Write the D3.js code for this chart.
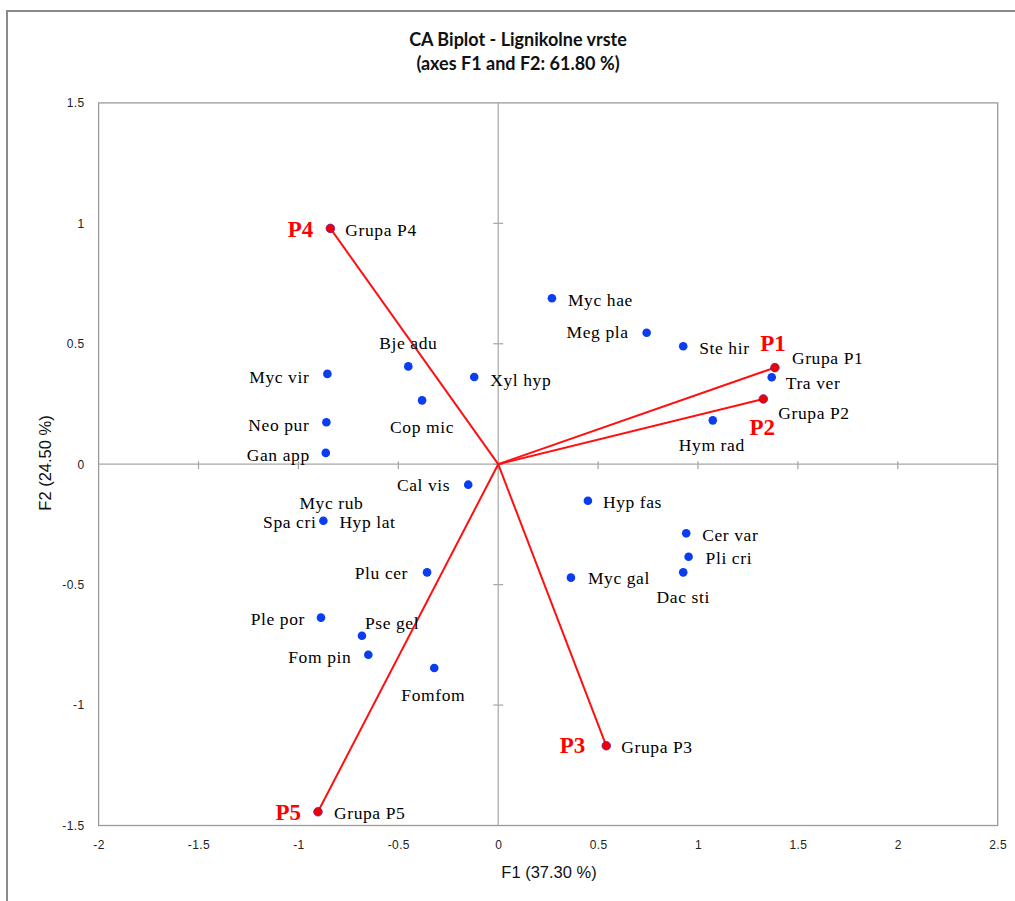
<!DOCTYPE html>
<html>
<head>
<meta charset="utf-8">
<script src="https://cdn.jsdelivr.net/npm/d3@7"></script>
<style>
  html, body { margin: 0; padding: 0; background: #fff; }
  svg { display: block; }
</style>
</head>
<body>
<svg id="chart" width="1015" height="901"></svg>
<script>
// Row points (site groups)
const groupNames = ["Grupa P1", "Grupa P2", "Grupa P3", "Grupa P4", "Grupa P5"];
const groupTags  = ["P1", "P2", "P3", "P4", "P5"];
const groupF1    = [1.385, 1.327, 0.541, -0.840, -0.902];
const groupF2    = [0.401, 0.271, -1.169, 0.979, -1.443];

// Column points (lignicolous species)
const speciesNames = ["Myc hae", "Meg pla", "Ste hir", "Tra ver", "Hym rad",
  "Myc vir", "Neo pur", "Gan app", "Bje adu", "Cop mic", "Xyl hyp", "Cal vis",
  "Spa cri", "Plu cer", "Ple por", "Pse gel", "Fom pin", "Fomfom",
  "Hyp fas", "Cer var", "Pli cri", "Myc gal", "Dac sti"];
const speciesF1 = [0.269, 0.743, 0.926, 1.369, 1.074,
  -0.855, -0.860, -0.863, -0.450, -0.381, -0.120, -0.150,
  -0.875, -0.356, -0.887, -0.682, -0.650, -0.320,
  0.449, 0.941, 0.953, 0.364, 0.926];
const speciesF2 = [0.689, 0.546, 0.490, 0.361, 0.182,
  0.375, 0.174, 0.047, 0.406, 0.265, 0.362, -0.085,
  -0.235, -0.449, -0.637, -0.712, -0.791, -0.846,
  -0.152, -0.287, -0.384, -0.471, -0.449];
// Extra names sharing the "Spa cri" point
const sharedNames = ["Myc rub", "Hyp lat"];

// Axis ticks
const xTicks = [-2, -1.5, -1, -0.5, 0, 0.5, 1, 1.5, 2, 2.5];
const yTicks = [-1.5, -1, -0.5, 0, 0.5, 1, 1.5];

const titleLines = ["CA Biplot - Lignikolne vrste", "(axes F1 and F2: 61.80 %)"];
const xTitle = "F1 (37.30 %)";
const yTitle = "F2 (24.50 %)";

// ---- label placement (pixel offsets from the point, anchor) ----
const labelPlace = {
  "Myc hae": [16, 2, "start"], "Meg pla": [-18, 0, "end"], "Ste hir": [16, 2, "start"],
  "Tra ver": [14, 6, "start"], "Hym rad": [-1, 25, "middle"],
  "Myc vir": [-18, 3, "end"], "Neo pur": [-17, 3, "end"], "Gan app": [-16, 2, "end"],
  "Bje adu": [0, -23, "middle"], "Cop mic": [0, 27, "middle"], "Xyl hyp": [16, 3, "start"],
  "Cal vis": [-18, 1, "end"], "Spa cri": [-7, 1, "end"], "Myc rub": [8, -18, "middle"],
  "Hyp lat": [16, 1, "start"], "Plu cer": [-19, 1, "end"], "Ple por": [-16, 2, "end"],
  "Pse gel": [3, -12, "start"], "Fom pin": [-17, 2, "end"], "Fomfom": [-1, 27, "middle"],
  "Hyp fas": [15, 1, "start"], "Cer var": [16, 2, "start"], "Pli cri": [17, 2, "start"],
  "Myc gal": [17, 1, "start"], "Dac sti": [0, 25, "middle"],
  "Grupa P1": [17, -9, "start"], "Grupa P2": [15, 14, "start"], "Grupa P3": [15, 1, "start"],
  "Grupa P4": [15, 2, "start"], "Grupa P5": [16, 1, "start"]
};
const tagPlace = {
  "P1": [-2, -24, "middle"], "P2": [-1, 28, "middle"], "P3": [-21, 0, "end"],
  "P4": [-17, 1, "end"], "P5": [-17, 1, "end"]
};

const svg = d3.select("#chart");

// outer chart frame
svg.append("rect")
  .attr("x", 7).attr("y", 11).attr("width", 1040).attr("height", 920)
  .attr("fill", "#fff").attr("stroke", "#8a8a8a").attr("stroke-width", 2);

const x = d3.scaleLinear().domain([-2, 2.5]).range([98.6, 997.7]);
const y = d3.scaleLinear().domain([-1.5, 1.5]).range([825.5, 102.9]);

// plot area frame
svg.append("rect")
  .attr("x", x(-2)).attr("y", y(1.5))
  .attr("width", x(2.5) - x(-2)).attr("height", y(-1.5) - y(1.5))
  .attr("fill", "none").attr("stroke", "#9a9a9a").attr("stroke-width", 1.3);

// tick labels along the frame (plain hyphen for negatives)
const tickFont = "'Liberation Sans', Arial, sans-serif";
const fmt = d => String(d);
const xAxis = d3.axisBottom(x).tickValues(xTicks).tickSize(0).tickPadding(0).tickFormat(fmt);
const gx = svg.append("g").attr("transform", `translate(0,${y(-1.5)})`).call(xAxis);
gx.select(".domain").remove();
gx.selectAll("text").attr("y", 20).attr("dy", "0.32em")
  .attr("font-family", tickFont).attr("font-size", 12).attr("fill", "#222")
  .attr("letter-spacing", 0.4);

const yAxis = d3.axisLeft(y).tickValues(yTicks).tickSize(0).tickPadding(0).tickFormat(fmt);
const gy = svg.append("g").attr("transform", `translate(${x(-2)},0)`).call(yAxis);
gy.select(".domain").remove();
gy.selectAll("text").attr("x", -14).attr("dy", "0.32em")
  .attr("font-family", tickFont).attr("font-size", 12).attr("fill", "#222")
  .attr("letter-spacing", 0.4);

// zero axes with crossing tick marks
const axisCol = "#a6a6a6";
svg.append("line").attr("x1", x(-2)).attr("x2", x(2.5)).attr("y1", y(0)).attr("y2", y(0))
  .attr("stroke", axisCol).attr("stroke-width", 1.2);
svg.append("line").attr("x1", x(0)).attr("x2", x(0)).attr("y1", y(1.5)).attr("y2", y(-1.5))
  .attr("stroke", axisCol).attr("stroke-width", 1.2);
svg.append("g").selectAll("line").data(xTicks.filter(d => d > -2 && d < 2.5)).join("line")
  .attr("x1", d => x(d)).attr("x2", d => x(d))
  .attr("y1", y(0) - 3).attr("y2", y(0) + 5)
  .attr("stroke", axisCol).attr("stroke-width", 1.2);
svg.append("g").selectAll("line").data(yTicks.filter(d => d > -1.5 && d < 1.5)).join("line")
  .attr("x1", x(0) - 5).attr("x2", x(0) + 5)
  .attr("y1", d => y(d)).attr("y2", d => y(d))
  .attr("stroke", axisCol).attr("stroke-width", 1.2);

// titles
const titleFont = "Lato, 'Open Sans', sans-serif";
svg.append("g").selectAll("text").data(titleLines).join("text")
  .attr("x", 518).attr("y", (d, i) => 46 + i * 24)
  .attr("text-anchor", "middle")
  .attr("font-family", titleFont).attr("font-weight", 700).attr("font-size", 18)
  .attr("fill", "#111").text(d => d);

svg.append("text")
  .attr("x", 549).attr("y", 878).attr("text-anchor", "middle")
  .attr("font-family", tickFont).attr("font-size", 16.5).attr("fill", "#111")
  .text(xTitle);
svg.append("text")
  .attr("transform", `translate(51,463) rotate(-90)`).attr("text-anchor", "middle")
  .attr("font-family", tickFont).attr("font-size", 16.5).attr("fill", "#111")
  .text(yTitle);

// build point tables
const groups = groupNames.map((n, i) => ({ name: n, tag: groupTags[i], f1: groupF1[i], f2: groupF2[i] }));
const species = speciesNames.map((n, i) => ({ name: n, f1: speciesF1[i], f2: speciesF2[i] }));

// vectors from the origin to each group
svg.append("g").selectAll("line").data(groups).join("line")
  .attr("x1", x(0)).attr("y1", y(0))
  .attr("x2", d => x(d.f1)).attr("y2", d => y(d.f2))
  .attr("stroke", "#ff1010").attr("stroke-width", 2);

// species points
svg.append("g").selectAll("circle").data(species).join("circle")
  .attr("cx", d => x(d.f1)).attr("cy", d => y(d.f2)).attr("r", 4.3)
  .attr("fill", "#0a3cf0");

// group points
svg.append("g").selectAll("circle").data(groups).join("circle")
  .attr("cx", d => x(d.f1)).attr("cy", d => y(d.f2)).attr("r", 4.3)
  .attr("fill", "#f00000").attr("stroke", "#6a1aa0").attr("stroke-width", 0.8);

// point labels
const labFont = "'Liberation Serif', 'Times New Roman', serif";
const labFS = 17.5;
const labelRows = species.map(d => ({ name: d.name, f1: d.f1, f2: d.f2 }))
  .concat(sharedNames.map(n => {
    const s = species.find(d => d.name === "Spa cri");
    return { name: n, f1: s.f1, f2: s.f2 };
  }))
  .concat(groups.map(d => ({ name: d.name, f1: d.f1, f2: d.f2 })));

svg.append("g").selectAll("text").data(labelRows).join("text")
  .attr("x", d => x(d.f1) + labelPlace[d.name][0])
  .attr("y", d => y(d.f2) + labelPlace[d.name][1] + labFS * 0.33)
  .attr("text-anchor", d => labelPlace[d.name][2])
  .attr("font-family", labFont).attr("font-size", labFS)
  .attr("letter-spacing", 0.6).attr("fill", "#000")
  .text(d => d.name);

// bold red group tags
const tagFS = 23;
svg.append("g").selectAll("text").data(groups).join("text")
  .attr("x", d => x(d.f1) + tagPlace[d.tag][0])
  .attr("y", d => y(d.f2) + tagPlace[d.tag][1] + tagFS * 0.33)
  .attr("text-anchor", d => tagPlace[d.tag][2])
  .attr("font-family", labFont).attr("font-weight", 700).attr("font-size", tagFS)
  .attr("fill", "#ff0000")
  .text(d => d.tag);
</script>
</body>
</html>
